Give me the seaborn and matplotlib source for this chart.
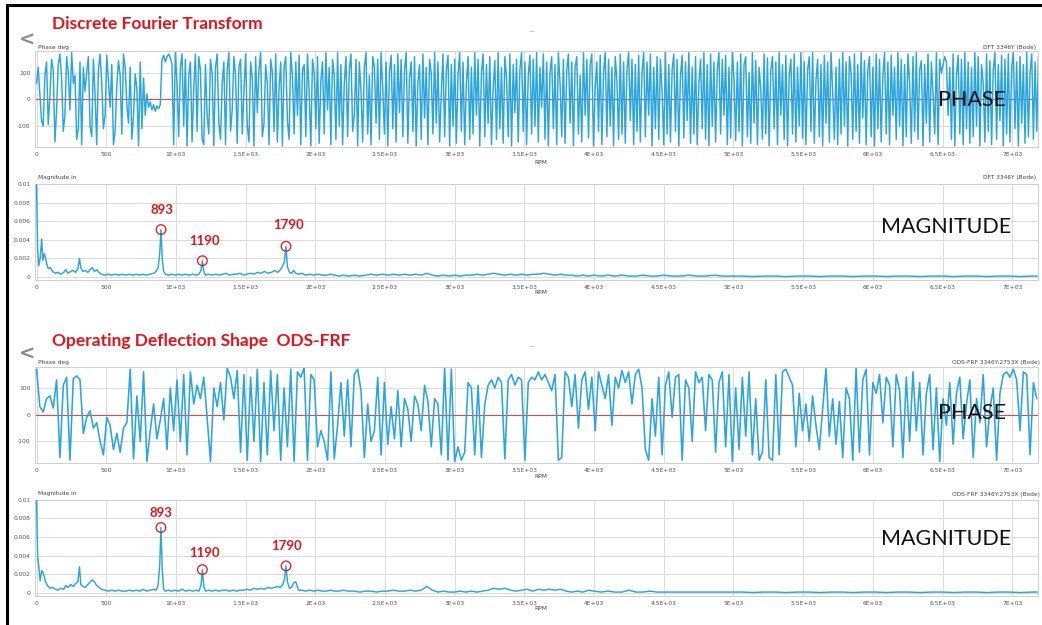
import numpy as np
import pandas as pd
import matplotlib
matplotlib.use("Agg")
import matplotlib.pyplot as plt
import seaborn as sns
from matplotlib.lines import Line2D

# ------------------------------------------------------------------ data
DFT_PHASE_STEP_RPM = 12   # spacing of the DFT phase bins
ODS_PHASE_STEP_RPM = 24   # spacing of the ODS phase bins

dft_phase = [
    60, 120, 20, -80, -100, 90, 140, -95, 10, 150, 110, -160, -40, 130, 170, 80, -120, -60, 160, 100,
    -40, 175, 60, 90, -150, -110, 140, -170, 120, 30, 100, 160, -100, -140, 150, 20, -170, 110, 170, 60,
    -110, -60, 165, 70, -30, 130, -170, -120, 50, 145, 90, -130, 170, 120, -20, -90, 120, -150, -60, 95,
    40, -175, 140, -110, 80, -60, 20, -30, -10, -40, -20, -45, -25, -35, -20, 150, 165, 140, 160, 170,
    155, 130, -170, 175, 60, -140, 120, 170, -100, 150, -175, 90, 140, -160, 40, 170, -120, 160, 110, -150,
    -170, 130, -60, -130, 150, 100, -175, 120, 170, -90, -150, 60, 140, -170, 110, 175, -120, -40, 160, 90,
    -165, 120, 150, -130, 30, 170, -100, -160, 140, 80, -175, 160, -50, 110, 175, -140, -90, 130, 60, -170,
    150, 100, -120, 170, -160, 40, 140, -175, 120, 160, -80, -150, 175, 90, -130, 140, -60, 165, -170, 110,
    130, -140, 170, 20, -175, 150, 100, -110, 160, -165, 70, 140, -130, 175, -40, 120, -170, 150, 90, -150,
    175, -100, 130, -170, 60, 160, -140, 110, 170, -120, -60, 150, -175, 140, 30, -160, 120, 175, -130, 90,
    -170, 160, 120, -90, 150, -150, 175, 40, -130, 140, -175, 100, 165, -110, 130, -160, 170, -50, 150, -140,
    110, 175, -165, 80, 140, -120, 160, -175, 60, 130, -150, 170, -70, 120, -170, 150, 100, -130, 175, -90,
    140, -160, 20, 170, -140, 110, 165, -175, 130, -100, 150, -165, 90, 175, -120, 140, -170, 60, 160, -150,
    120, -130, 175, -60, 150, -175, 100, 170, -140, 130, -90, 160, -170, 40, 145, -150, 175, -110, 120, -165,
    160, 80, -140, 170, -175, 130, -50, 150, -160, 110, 175, -120, 140, -170, 90, 165, -130, 150, -100, 175,
    -160, 120, -30, 170, -150, 140, -175, 100, 160, -110, 130, -170, 175, 60, -140, 150, -165, 110, 170, -90,
    140, -175, 120, 160, -130, 90, -160, 175, -60, 150, -145, 130, 170, -175, 40, 140, -120, 165, -170, 100,
    175, -140, 150, -100, 120, -175, 160, 70, -150, 170, -130, 140, -165, 110, 175, -80, 150, -170, 130, -120,
    165, -160, 100, 175, -140, 140, -60, 170, -175, 120, -110, 160, -150, 150, 30, -170, 175, -130, 130, -160,
    110, 170, -120, 150, -175, 90, 165, -145, 140, -80, 175, -165, 120, -130, 160, -170, 60, 150, -110, 175,
    -150, 130, -175, 170, -100, 140, -160, 110, 175, -130, 150, -60, 165, -170, 120, -145, 175, 80, -155, 140,
    -120, 170, -175, 130, 160, -140, 100, -165, 175, -90, 145, -170, 120, 40, -150, 170, -130, 155, -175, 110,
    160, -110, 140, -170, 175, -60, 130, -150, 165, -175, 90, 150, -130, 170, -160, 120, -100, 175, -145, 140,
    -170, 110, 160, -120, 175, -165, 70, 150, -140, 130, -175, 165, -90, 140, -160, 175, 30, -150, 120, -170,
    150, -130, 175, -100, 140, -175, 160, 100, -150, 170, -120, 130, -165, 175, -70, 145, -170, 110, 160, -140,
    120, -175, 170, -110, 150, -160, 90, 175, -130, 140, -170, 165, -60, 120, -150, 175, -100, 150, -175, 130,
    -140, 170, 60, -165, 160, -120, 175, -150, 110, 145, -175, 130, -90, 170, -160, 140, 20, -130, 175, -170,
    150, 100, 130, 160, 140, -60, 120, -150, 170, -175, 90, 165, -130, 150, -170, 175, -110, 140, -165, 120,
    -140, 175, -100, 160, -175, 130, 60, -160, 170, -120, 145, -170, 110, 175, -150, 130, -80, 165, -175, 150,
    -130, 170, -160, 120, 175, -110, 140, -175, 160, -90, 130, -165, 175, -140, 100, 170, -150, 140, -120, 160,
]

ods_phase = [
    170, 30, 10, 60, 70, 25, 130, -160, 110, 140,
    -170, 135, 145, 130, -70, -10, 15, -50, -30, -100,
    -150, -10, -40, -130, -70, -140, -50, -30, 170, -165,
    70, -100, 160, -175, -60, 40, -90, -20, 60, -130,
    100, -60, 130, -100, 150, -150, 160, 40, 110, 60,
    140, -10, -175, 100, 30, 120, -20, 175, 140, 60,
    165, -140, 150, -170, 140, -100, 170, -175, 120, -150,
    165, -60, 150, -170, 100, -120, 170, -175, 160, 140,
    175, -170, 150, 130, -120, -60, -100, -170, 160, -165,
    -40, 120, -80, 130, -120, 150, 170, 90, -160, 40,
    -100, -60, 140, -150, 120, -110, 30, -90, 90, -120,
    60, 20, -100, 70, 40, -60, 110, 50, -120, 60,
    40, -150, 175, -170, 170, -175, -120, -170, -140, 120,
    100, -150, 110, -160, 40, 110, 130, 100, 140, 120,
    -165, 130, 150, 110, 140, 130, -170, 120, 140, 130,
    160, 130, 150, 120, 90, 150, -170, -160, 160, 140,
    30, 150, -50, 130, 160, 20, 140, -60, 160, 110,
    60, 150, -40, 140, 100, 165, 120, 160, 40, 150,
    170, 100, -130, -170, 60, -80, 140, -150, 110, 160,
    -10, 140, 150, -170, 130, 100, -100, 160, 120, 140,
    -60, 150, 130, -140, 120, 160, -120, 150, -175, 100,
    -130, 140, -80, 160, -150, 60, -170, -140, 130, -160,
    -170, 150, -150, 160, 170, 140, 110, -120, 80, -60,
    40, -100, 70, -40, -130, 20, 175, -80, 60, -110,
    50, -160, 100, 60, -170, 175, -140, 130, 170, -150,
    120, 80, 150, -30, 140, 110, -120, 150, 90, -160,
    140, -100, 160, -60, 120, -150, 80, 150, -130, 100,
    -175, 60, -40, 120, -110, 80, 140, -90, 40, 130,
    -160, 60, -30, 150, -120, 20, 100, -170, 80, 150,
    160, 140, 170, 130, -60, 160, 150, -150, 120, 60,
]

mag_rpm = [
    0, 8, 16, 26, 37, 46, 55, 64, 72, 84,
    100, 115, 135, 155, 175, 195, 210, 225, 245, 262,
    280, 297, 308, 318, 332, 350, 368, 385, 400, 415,
    432, 448, 465, 490, 515, 540, 565, 590, 615, 640,
    665, 690, 715, 740, 765, 790, 815, 840, 858, 872,
    884, 893, 902, 912, 925, 945, 970, 995, 1020, 1045,
    1070, 1095, 1120, 1145, 1165, 1180, 1190, 1200, 1212, 1235,
    1260, 1285, 1310, 1335, 1360, 1385, 1410, 1435, 1460, 1485,
    1510, 1535, 1560, 1585, 1610, 1635, 1660, 1685, 1710, 1730,
    1750, 1766, 1778, 1790, 1800, 1815, 1830, 1845, 1860, 1880,
    1905, 1930, 1960, 1990, 2020, 2050, 2080, 2110, 2140, 2170,
    2200, 2240, 2280, 2320, 2360, 2400, 2440, 2480, 2520, 2560,
    2600, 2640, 2680, 2720, 2760, 2800, 2840, 2880, 2920, 2960,
    3000, 3040, 3080, 3120, 3160, 3200, 3240, 3280, 3320, 3360,
    3400, 3440, 3480, 3520, 3560, 3600, 3640, 3680, 3720, 3760,
    3800, 3840, 3880, 3920, 3960, 4000, 4050, 4100, 4150, 4200,
    4250, 4300, 4350, 4400, 4450, 4500, 4560, 4620, 4680, 4740,
    4800, 4860, 4920, 4980, 5060, 5140, 5220, 5300, 5380, 5460,
    5540, 5620, 5700, 5780, 5860, 5940, 6020, 6100, 6180, 6260,
    6340, 6420, 6500, 6580, 6660, 6740, 6820, 6900, 6980, 7060,
    7140, 7180,
]

# magnitudes in units of 0.0001 in
dft_mag_e4 = [
    99, 30, 12, 20, 41, 18, 25, 21, 15, 9,
    10, 6, 4, 5, 3, 5, 8, 4, 6, 7,
    5, 9, 20, 10, 6, 7, 5, 8, 10, 6,
    8, 5, 3, 2, 3, 2, 3, 2, 3, 2,
    3, 2, 3, 2, 3, 2, 3, 4, 6, 10,
    25, 51, 20, 6, 3, 2, 3, 2, 3, 2,
    3, 2, 3, 2, 3, 7, 17.5, 6, 2, 3,
    2, 3, 2, 3, 4, 2, 3, 3, 4, 2,
    3, 4, 3, 5, 4, 6, 4, 5, 7, 5,
    8, 12, 16, 33, 11, 5, 4, 7, 4, 3,
    4, 2, 3, 2, 3, 2, 2, 3, 2, 1,
    2, 1, 2, 1, 2, 3, 2, 3, 2, 3,
    2, 3, 2, 3, 2, 4, 2, 1, 2, 1,
    2, 1, 2, 2, 3, 2, 3, 4, 3, 2,
    3, 2, 3, 2, 3, 3, 4, 3, 2, 3,
    2, 2, 1, 2, 1, 2, 1, 2, 1, 2,
    1, 1, 2, 1, 1, 2, 1, 1, 2, 1,
    1, 2, 1, 1, 1, 0.5, 1, 1, 0.5, 1,
    1, 0.5, 1, 1, 0.5, 1, 1, 0.5, 1, 1,
    0.5, 1, 1, 0.5, 1, 1, 0.5, 1, 1, 0.5,
    1, 1,
]

ods_mag_e4 = [
    101, 40, 29, 13, 24, 22, 18, 12, 10, 7,
    5, 6, 4, 3, 5, 4, 8, 6, 9, 7,
    10, 12, 28, 9, 7, 6, 9, 12, 14, 12,
    8, 6, 4, 3, 2, 3, 2, 3, 2, 2,
    3, 2, 3, 2, 4, 2, 3, 4, 3, 8,
    30, 70, 25, 4, 2, 3, 2, 3, 2, 4,
    2, 3, 2, 3, 2, 8, 25, 7, 2, 3,
    2, 3, 2, 3, 3, 2, 3, 2, 3, 3,
    4, 3, 5, 4, 5, 4, 6, 5, 6, 7,
    6, 9, 14, 29, 12, 5, 6, 11, 12, 3,
    3, 2, 3, 2, 3, 2, 2, 3, 2, 2,
    3, 2, 2, 1, 2, 2, 1, 2, 2, 3,
    2, 2, 3, 2, 3, 7, 3, 1, 2, 1,
    1, 2, 1, 2, 1, 2, 3, 5, 4, 5,
    3, 2, 3, 4, 2, 4, 3, 4, 3, 4,
    2, 1, 2, 1, 3, 2, 1, 2, 1, 1,
    3, 1, 1, 2, 1, 1, 1, 1, 1, 1,
    1, 1, 1, 1, 1, 0.5, 1, 1, 0.5, 1,
    1, 0.5, 1, 1, 0.5, 1, 1, 0.5, 1, 1,
    0.5, 1, 1, 0.5, 1, 1, 0.5, 1, 1, 0.5,
    1, 1,
]

peak_rpm = [893, 1190, 1790]
peak_labels = ["893", "1190", "1790"]
dft_peak_mag = [0.0051, 0.00175, 0.0033]
ods_peak_mag = [0.0070, 0.0025, 0.0029]

x_ticks = [0, 500, 1000, 1500, 2000, 2500, 3000, 3500, 4000, 4500, 5000, 5500, 6000, 6500, 7000]
x_tick_labels = ["0", "500", "1E+03", "1.5E+03", "2E+03", "2.5E+03", "3E+03", "3.5E+03",
                 "4E+03", "4.5E+03", "5E+03", "5.5E+03", "6E+03", "6.5E+03", "7E+03"]
phase_ticks = [-100, 0, 100]
phase_tick_labels = ["-100", "0", "100"]
mag_ticks = [0, 0.002, 0.004, 0.006, 0.008, 0.01]
mag_tick_labels = ["0", "0.002", "0.004", "0.006", "0.008", "0.01"]

# ------------------------------------------------------------------ frames
phase_dft_df = pd.DataFrame({"rpm": np.arange(len(dft_phase)) * DFT_PHASE_STEP_RPM, "phase": dft_phase})
phase_ods_df = pd.DataFrame({"rpm": np.arange(len(ods_phase)) * ODS_PHASE_STEP_RPM, "phase": ods_phase})
mag_df = pd.DataFrame({"rpm": mag_rpm,
                       "dft": np.array(dft_mag_e4) * 1e-4,
                       "ods": np.array(ods_mag_e4) * 1e-4})
dft_peaks_df = pd.DataFrame({"rpm": peak_rpm, "mag": dft_peak_mag})
ods_peaks_df = pd.DataFrame({"rpm": peak_rpm, "mag": ods_peak_mag})

# ------------------------------------------------------------------ style
sns.set_theme(style="white")
plt.rcParams["font.family"] = ["Lato", "DejaVu Sans"]

W, H = 1042, 625
fig = plt.figure(figsize=(W / 100, H / 100), dpi=100)
fig.patch.set_facecolor("white")

LINE = "#2ba5dd"
RED = "#e3141c"
ZERO = "#e2454a"
XMIN, XMAX = -8, 7185


def px_axes(x0, y0, x1, y1):
    return fig.add_axes([x0 / W, 1 - y1 / H, (x1 - x0) / W, (y1 - y0) / H])


def ftext(x, y, s, **kw):
    fig.text(x / W, 1 - y / H, s, **kw)


def style(ax, yticks, ylabels, ylim):
    ax.set_xlim(XMIN, XMAX)
    ax.set_ylim(*ylim)
    ax.set_xticks(x_ticks)
    ax.set_xticklabels(x_tick_labels)
    ax.set_yticks(yticks)
    ax.set_yticklabels(ylabels)
    ax.tick_params(labelsize=4.3, colors="#555555", length=0, pad=3.5)
    for lab in ax.get_xticklabels() + ax.get_yticklabels():
        lab.set_family("DejaVu Sans")
    ax.grid(True, color="#dadada", lw=0.7)
    ax.set_axisbelow(True)
    for s in ax.spines.values():
        s.set_color("#cfcfcf")
        s.set_linewidth(0.7)
    ax.set_xlabel("")
    ax.set_ylabel("")


# Panel geometry (pixels)
L, R = 35.4, 1038
ax1 = px_axes(L, 51.3, R, 147.3)
ax2 = px_axes(L, 184.0, R, 279.8)
ax3 = px_axes(L, 366.5, R, 462.9)
ax4 = px_axes(L, 499.5, R, 595.8)

# phase panels
for ax, df, lw in ((ax1, phase_dft_df, 1.05), (ax3, phase_ods_df, 1.15)):
    ax.axhline(0, color=ZERO, lw=0.8, zorder=1)
    sns.lineplot(data=df, x="rpm", y="phase", ax=ax, color=LINE, lw=lw,
                 estimator=None, sort=False, zorder=2)
    style(ax, phase_ticks, phase_tick_labels, (-180, 180))

# magnitude panels
for ax, col, pk, offs in ((ax2, "dft", dft_peaks_df, [(1, 20), (2, 20), (3, 21)]),
                          (ax4, "ods", ods_peaks_df, [(0, 15), (2, 17), (1, 20)])):
    sns.lineplot(data=mag_df, x="rpm", y=col, ax=ax, color=LINE, lw=1.05,
                 estimator=None, sort=False, zorder=3)
    sns.scatterplot(data=pk, x="rpm", y="mag", ax=ax, marker="o", s=48,
                    facecolor="none", edgecolor=RED, linewidth=0.9, zorder=4)
    for r, m, lab, (dx, dy) in zip(pk["rpm"], pk["mag"], peak_labels, offs):
        ax.annotate(lab, (r, m), xytext=(dx * 0.72, dy * 0.72), textcoords="offset points",
                    ha="center", va="center", color=RED, fontsize=9.5, fontweight="bold")
    style(ax, mag_ticks, mag_tick_labels, (-0.0003, 0.01))

# ------------------------------------------------------------------ texts
ftext(52, 24, "Discrete Fourier Transform", color=RED, fontsize=12.5, fontweight="bold",
      ha="left", va="center")
ftext(52, 341, "Operating Deflection Shape  ODS-FRF", color=RED, fontsize=12.5, fontweight="bold",
      ha="left", va="center")

for y in (40, 354):
    ftext(27, y, "<", color="#8a8a8a", fontsize=14, fontweight="bold", ha="center", va="center",
          family="DejaVu Sans")
for y in (32, 347):
    ftext(531, y, "\u2014", color="#777777", fontsize=4, ha="center", va="center", family="DejaVu Sans")

small = dict(fontsize=4.2, color="#444444", va="center", family="DejaVu Sans")
ftext(38, 47, "Phase deg", ha="left", **small)
ftext(38, 177, "Magnitude in", ha="left", **small)
ftext(38, 362, "Phase deg", ha="left", **small)
ftext(38, 494, "Magnitude in", ha="left", **small)
ftext(1036, 47, "DFT 3346Y (Bode)", ha="right", **small)
ftext(1036, 177.5, "DFT 3346Y (Bode)", ha="right", **small)
ftext(1040, 362, "ODS-FRF 3346Y:2753X (Bode)", ha="right", **small)
ftext(1040, 494.5, "ODS-FRF 3346Y:2753X (Bode)", ha="right", **small)
for y in (162.5, 292, 476, 608):
    ftext(541, y, "RPM", ha="center", **small)

big = dict(fontsize=15.5, color="#111111", ha="center", va="center")
ftext(972, 100, "PHASE", **big)
ftext(972, 413, "PHASE", **big)
ftext(946, 227, "MAGNITUDE", **big)
ftext(946, 539, "MAGNITUDE", **big)

# outer frame (left and top edges)
fig.add_artist(Line2D([6.5 / W, 6.5 / W], [0, 1 - 5 / H], transform=fig.transFigure,
                      color="black", lw=2.2))
fig.add_artist(Line2D([6.5 / W, 1], [1 - 5 / H, 1 - 5 / H], transform=fig.transFigure,
                      color="black", lw=2.2))

fig.savefig("out.png", dpi=100)
